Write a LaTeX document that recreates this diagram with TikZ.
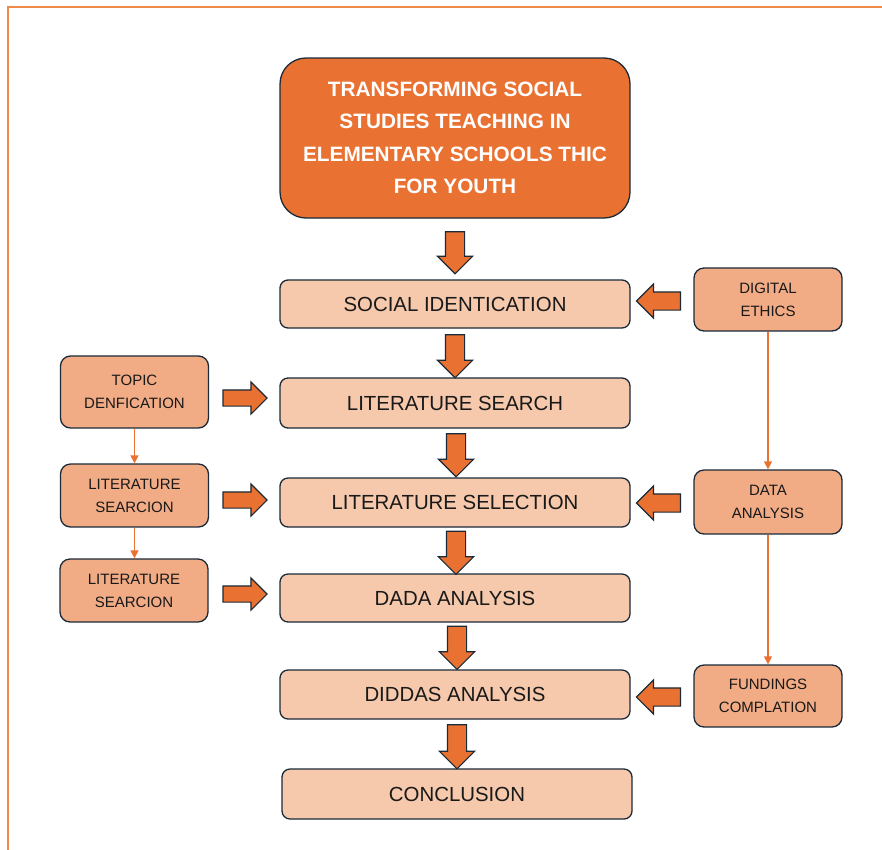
\documentclass[tikz,border=0pt]{standalone}
\usepackage{fontspec}
\setmainfont{Liberation Sans}
\usetikzlibrary{shapes.arrows,arrows.meta}
\definecolor{orng}{HTML}{E97132}
\definecolor{peach}{HTML}{F6C8AC}
\definecolor{salmon}{HTML}{F1AB85}
\definecolor{navy}{HTML}{1B2A38}
\definecolor{framec}{HTML}{F08A4B}
\tikzset{
  box/.style={draw=navy, line width=1.3pt, rounded corners=8pt, align=center, text=black!90, inner sep=0pt},
  mainbox/.style={box, fill=peach, minimum width=350pt, minimum height=49pt, font=\fontsize{20.4}{24}\selectfont},
  sidebox/.style={box, fill=salmon, minimum width=148pt, minimum height=63pt, rounded corners=10pt, font=\fontsize{15}{23}\selectfont},
  titlebox/.style={box, fill=orng, text=white, minimum width=350pt, minimum height=160pt, rounded corners=26pt, font=\fontsize{20.8}{32.5}\selectfont\bfseries},
  blockarr/.style={single arrow, draw=navy, fill=orng, line width=1.1pt, inner xsep=0pt, inner ysep=8.5pt, minimum height=43pt, single arrow head extend=8pt, single arrow head indent=0pt},
  downarr/.style={blockarr, shape border rotate=270, inner xsep=9pt, inner ysep=0pt},
  leftarr/.style={blockarr, shape border rotate=180, minimum height=44pt},
  rightarr/.style={blockarr, minimum height=44pt, inner ysep=7.5pt},
  thinarr/.style={draw=orng, line width=1.3pt, -{Triangle[width=8pt,length=8pt]}}
}
\begin{document}
\begin{tikzpicture}[x=1pt,y=-1pt]
  \useasboundingbox (0,0) rectangle (882,849);
  \clip (0,0) rectangle (882,849);
  \draw[framec, line width=2pt] (8,7) rectangle (900,870);

  \node[titlebox] (title) at (455,138) {TRANSFORMING SOCIAL\\STUDIES TEACHING IN\\ELEMENTARY SCHOOLS THIC\\FOR YOUTH};
  \node[mainbox, minimum height=48pt] (soc) at (455,304) {SOCIAL IDENTICATION};
  \node[mainbox, minimum height=50pt] (lsearch) at (455,403) {LITERATURE SEARCH};
  \node[mainbox] (lsel) at (455,502.5) {LITERATURE SELECTION};
  \node[mainbox, minimum height=48pt] (dada) at (455,598) {DADA ANALYSIS};
  \node[mainbox] (diddas) at (455,694.5) {DIDDAS ANALYSIS};
  \node[mainbox, minimum height=50pt] (concl) at (457,794) {CONCLUSION};

  \node[sidebox] (dig) at (768,299.5) {DIGITAL\\ETHICS};
  \node[sidebox, minimum height=64pt] (data) at (768,502) {DATA\\ANALYSIS};
  \node[sidebox, minimum height=62pt] (fund) at (768,696) {FUNDINGS\\COMPLATION};
  \node[sidebox, minimum height=72pt] (topic) at (134.5,392) {TOPIC\\DENFICATION};
  \node[sidebox] (lsr1) at (134.5,495.5) {LITERATURE\\SEARCION};
  \node[sidebox] (lsr2) at (134,590.5) {LITERATURE\\SEARCION};

  \node[downarr, minimum height=42pt] (d1) at (455,248) {};
  \node[downarr] (d2) at (455,351.5) {};
  \node[downarr] (d3) at (456,450.5) {};
  \node[downarr] (d4) at (456,548) {};
  \node[downarr] (d5) at (457,643) {};
  \node[downarr, minimum height=44pt] (d6) at (457,742) {};

  \node[leftarr] (l1) at (663,301) {};
  \node[leftarr] (l2) at (663,503) {};
  \node[leftarr] (l3) at (663,697) {};
  \node[rightarr] (r1) at (241,398) {};
  \node[rightarr] (r2) at (241,500) {};
  \node[rightarr] (r3) at (241,594) {};

  \draw[thinarr] (topic) -- (lsr1);
  \draw[thinarr] (lsr1.south) -- (lsr1.south |- lsr2.north);
  \draw[thinarr] (dig) -- (data);
  \draw[thinarr] (data) -- (fund);
\end{tikzpicture}
\end{document}
